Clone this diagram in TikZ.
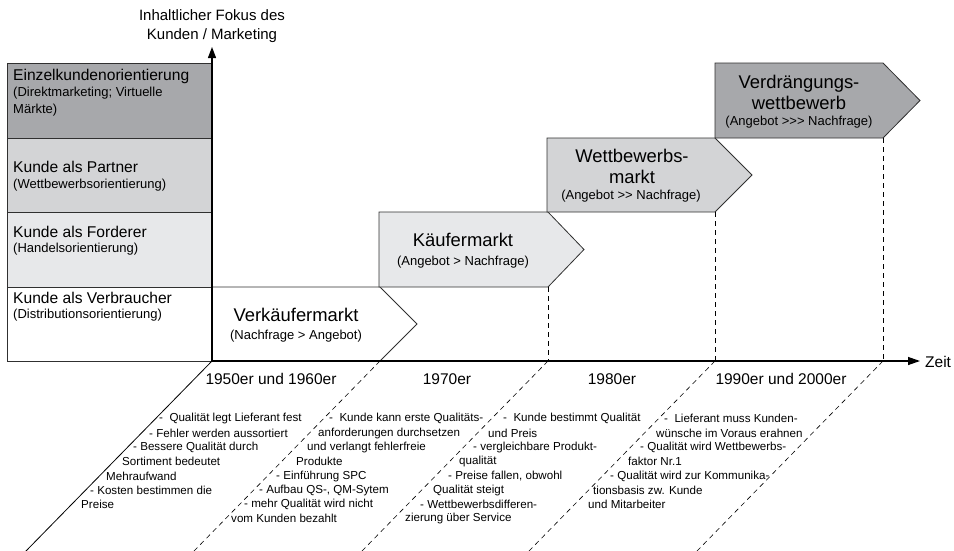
\documentclass[tikz,border=0pt]{standalone}
\usepackage{fontspec}
\setmainfont{Liberation Sans}[Ligatures=NoCommon]
\usetikzlibrary{arrows.meta}
\definecolor{darkfill}{HTML}{A7A8AB}
\definecolor{midfill}{HTML}{D3D4D6}
\definecolor{lightfill}{HTML}{E7E8EA}
\definecolor{edgegray}{HTML}{303030}
\begin{document}
\begin{tikzpicture}[x=1pt,y=-1pt,
  boxline/.style={draw=edgegray, line width=0.8pt},
  axisline/.style={draw=black, line width=1.3pt},
  diagline/.style={draw=black, line width=0.8pt},
  dashline/.style={draw=black, line width=0.6pt, dash pattern=on 5pt off 4pt},
  bul/.style={anchor=west, inner sep=0pt, font=\fontsize{11.6}{13}\selectfont},
  yearlbl/.style={inner sep=0pt, font=\fontsize{15.5}{18}\selectfont},
  boxtitle/.style={anchor=west, inner sep=0pt, font=\fontsize{15.6}{18}\selectfont},
  boxsub/.style={anchor=west, inner sep=0pt, align=left, font=\fontsize{13}{17}\selectfont},
  chevtitle/.style={inner sep=0pt, align=center, font=\fontsize{18.4}{21}\selectfont},
  chevsub/.style={inner sep=0pt, font=\fontsize{13}{15}\selectfont},
  axlabel/.style={inner sep=0pt, align=center, font=\fontsize{15}{19}\selectfont}
]
\useasboundingbox (0,0) rectangle (954,550);

% left boxes
\draw[boxline, fill=darkfill] (7,63) rectangle (212,138);
\draw[boxline, fill=midfill] (7,138) rectangle (212,212);
\draw[boxline, fill=lightfill] (7,212) rectangle (212,287);
\draw[boxline, fill=white] (7,287) rectangle (212,361);

\node[boxtitle] (b1t) at (13,76) {Einzelkundenorientierung};
\node[boxsub] (b1s) at (13,101.5) {(Direktmarketing; Virtuelle\\Märkte)};
\node[boxtitle] (b2t) at (13,167) {Kunde als Partner};
\node[boxsub] (b2s) at (13,185) {(Wettbewerbsorientierung)};
\node[boxtitle] (b3t) at (13,232) {Kunde als Forderer};
\node[boxsub] (b3s) at (13,249) {(Handelsorientierung)};
\node[boxtitle] (b4t) at (13,298) {Kunde als Verbraucher};
\node[boxsub] (b4s) at (13,315) {(Distributionsorientierung)};

% chevrons
\draw[boxline, fill=white] (212,287) -- (380,287) -- (417,324) -- (380,361) -- (212,361) -- cycle;
\draw[boxline, fill=lightfill] (379,212) -- (548,212) -- (584,249.5) -- (548,287) -- (379,287) -- cycle;
\draw[boxline, fill=midfill] (547,138) -- (715,138) -- (752,175) -- (715,212) -- (547,212) -- cycle;
\draw[boxline, fill=darkfill] (715,63) -- (883,63) -- (920,100.5) -- (883,138) -- (715,138) -- cycle;

\node[chevtitle] (c1t) at (296,315) {Verkäufermarkt};
\node[chevsub] (c1s) at (296,336) {(Nachfrage > Angebot)};
\node[chevtitle] (c2t) at (463,240) {Käufermarkt};
\node[chevsub] (c2s) at (463,262) {(Angebot > Nachfrage)};
\node[chevtitle] (c3t) at (632,166) {Wettbewerbs-\\markt};
\node[chevsub] (c3s) at (631,196) {(Angebot >{}> Nachfrage)};
\node[chevtitle] (c4t) at (799,92.5) {Verdrängungs-\\wettbewerb};
\node[chevsub] (c4s) at (799,122) {(Angebot >{}>{}> Nachfrage)};

% coordinates
\coordinate (origin) at (212,361);
\coordinate (ytip) at (212,47);
\coordinate (xtip) at (920,361);
\coordinate (t1) at (380,361);
\coordinate (t2) at (548,361);
\coordinate (t3) at (715,361);
\coordinate (t4) at (883,361);
\coordinate (k2) at (548,287);
\coordinate (w2) at (715,212);
\coordinate (v2) at (883,138);
\coordinate (d0) at (25,552);
\coordinate (d1) at (193,552);
\coordinate (d2) at (361,552);
\coordinate (d3) at (528,552);
\coordinate (d4) at (696,552);

% dashed verticals
\draw[dashline] (k2) -- (t2);
\draw[dashline] (w2) -- (t3);
\draw[dashline] (v2) -- (t4);

% diagonals
\draw[diagline] (origin) -- (d0);
\draw[dashline] (t1) -- (d1);
\draw[dashline] (t2) -- (d2);
\draw[dashline] (t3) -- (d3);
\draw[dashline] (t4) -- (d4);

% axes
\draw[axisline, -{Triangle[length=11pt,width=8pt]}] (origin) -- (ytip);
\draw[axisline, -{Triangle[length=12pt,width=8pt]}] (origin) -- (xtip);

\node[axlabel] (ylab) at (212,26.5) {Inhaltlicher Fokus des\\Kunden / Marketing};
\node[anchor=west, inner sep=0pt, font=\fontsize{15.5}{18}\selectfont] (xlab) at (925,362) {Zeit};

% years
\node[yearlbl] (y1) at (271,379) {1950er und 1960er};
\node[yearlbl] (y2) at (447,379) {1970er};
\node[yearlbl] (y3) at (612,379) {1980er};
\node[yearlbl] (y4) at (781,379) {1990er und 2000er};

% column 1
\node[bul] (a1) at (159,418) {-~ Qualität legt Lieferant fest};
\node[bul] (a2) at (149,433) {- Fehler werden aussortiert};
\node[bul] (a3) at (133,447) {- Bessere Qualität durch};
\node[bul] (a4) at (122,461) {Sortiment bedeutet};
\node[bul] (a5) at (106,476) {Mehraufwand};
\node[bul] (a6) at (90,490) {- Kosten bestimmen die};
\node[bul] (a7) at (81,504) {Preise};

% column 2
\node[bul] (e1) at (329,418) {-~ Kunde kann erste Qualitäts-};
\node[bul] (e2) at (318,433) {anforderungen durchsetzen};
\node[bul] (e3) at (307,447) {und verlangt fehlerfreie};
\node[bul] (e4) at (296,461) {Produkte};
\node[bul] (e5) at (276,476) {- Einführung SPC};
\node[bul] (e6) at (259,490) {- Aufbau QS-, QM-Sytem};
\node[bul] (e7) at (244,504) {- mehr Qualität wird nicht};
\node[bul] (e8) at (231,518) {vom Kunden bezahlt};

% column 3
\node[bul] (f1) at (503,418) {-~ Kunde bestimmt Qualität};
\node[bul] (f2) at (488,433) {und Preis};
\node[bul] (f3) at (473,447) {- vergleichbare Produkt-};
\node[bul] (f4) at (459,461) {qualität};
\node[bul] (f5) at (448,476) {- Preise fallen, obwohl};
\node[bul] (f6) at (433,490) {Qualität steigt};
\node[bul] (f7) at (420,504) {- Wettbewerbsdifferen-};
\node[bul] (f8) at (405,518) {zierung über Service};

% column 4
\node[bul] (g1) at (664,418) {-~ Lieferant muss Kunden-};
\node[bul] (g2) at (656,433) {wünsche im Voraus erahnen};
\node[bul] (g3) at (640,447) {- Qualität wird Wettbewerbs-};
\node[bul] (g4) at (628,461) {faktor Nr.1};
\node[bul] (g5) at (610,476) {- Qualität wird zur Kommunika-};
\node[bul] (g6) at (593,490) {tionsbasis zw. Kunde};
\node[bul] (g7) at (588,504) {und Mitarbeiter};
\end{tikzpicture}
\end{document}
